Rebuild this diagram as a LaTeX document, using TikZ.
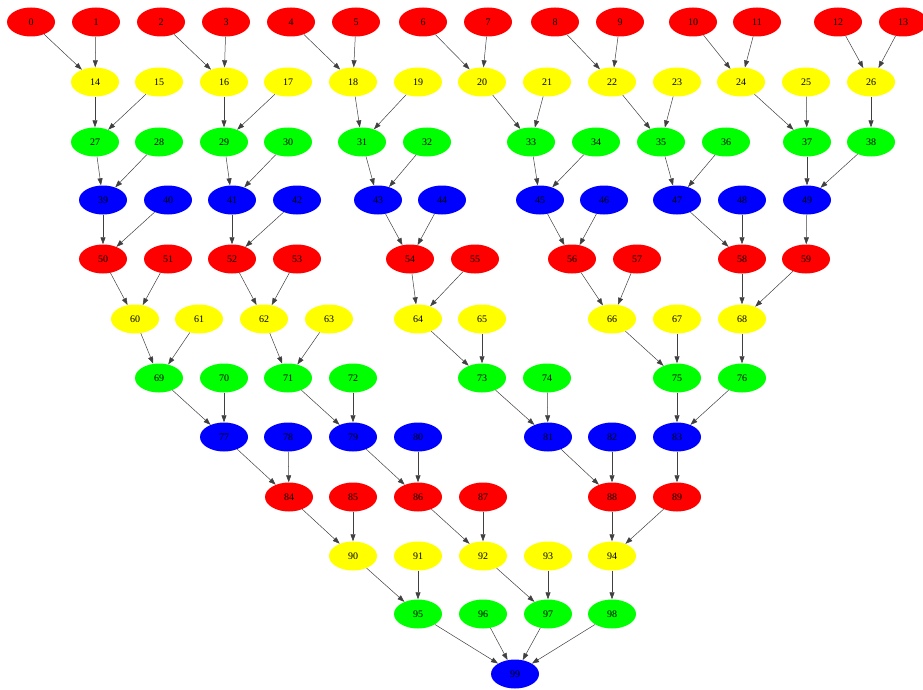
\documentclass[tikz,border=0pt]{standalone}
\usepackage{fontspec}
\setmainfont{Liberation Serif}
\definecolor{gvRed}{HTML}{FF0000}
\definecolor{gvYellow}{HTML}{FFFF00}
\definecolor{gvGreen}{HTML}{00FF00}
\definecolor{gvBlue}{HTML}{0000FF}
\usetikzlibrary{arrows.meta,shapes.geometric}

\tikzset{
  vtx/.style={ellipse, minimum width=48pt, minimum height=29pt, inner sep=0pt,
    font=\fontsize{10}{11}\selectfont},
  redv/.style={vtx, fill=gvRed},
  yelv/.style={vtx, fill=gvYellow},
  grnv/.style={vtx, fill=gvGreen},
  bluv/.style={vtx, fill=gvBlue},
  edge/.style={-{Triangle[length=7pt,width=5pt]}, draw=black!75, line width=0.5pt}
}

\begin{document}
\begin{tikzpicture}[x=1pt, y=-1pt]
        \useasboundingbox (0,0) rectangle (923,690);
        % Row 0
        \foreach \n/\x in {0/31,1/96,2/161,3/226,4/291,5/356,6/423,7/488,8/555,9/620,10/693,11/757,12/838,13/903}
          \node[redv] (n\n) at (\x,22) {\n};
        % Row 1
        \foreach \n/\x in {14/95,15/159,16/224,17/288,18/353,19/418,20/482,21/547,22/612,23/677,24/741,25/806,26/871}
          \node[yelv] (n\n) at (\x,82) {\n};
        % Row 2
        \foreach \n/\x in {27/95,28/159,29/224,30/288,31/362,32/427,33/531,34/596,35/661,36/726,37/807,38/871}
          \node[grnv] (n\n) at (\x,142) {\n};
        % Row 3
        \foreach \n/\x in {39/103,40/168,41/232,42/297,43/378,44/442,45/540,46/604,47/677,48/742,49/807}
          \node[bluv] (n\n) at (\x,200) {\n};
        % Row 4
        \foreach \n/\x in {50/103,51/168,52/232,53/297,54/410,55/475,56/572,57/637,58/742,59/806}
          \node[redv] (n\n) at (\x,259) {\n};
        % Row 5
        \foreach \n/\x in {60/135,61/199,62/264,63/329,64/418,65/482,66/612,67/677,68/742}
          \node[yelv] (n\n) at (\x,319) {\n};
        % Row 6
        \foreach \n/\x in {69/159,70/224,71/288,72/353,73/482,74/547,75/677,76/742}
          \node[grnv] (n\n) at (\x,378) {\n};
        % Row 7
        \foreach \n/\x in {77/224,78/288,79/353,80/418,81/548,82/612,83/677}
          \node[bluv] (n\n) at (\x,437) {\n};
        % Row 8
        \foreach \n/\x in {84/289,85/353,86/418,87/483,88/612,89/677}
          \node[redv] (n\n) at (\x,497) {\n};
        % Row 9
        \foreach \n/\x in {90/353,91/418,92/483,93/548,94/612}
          \node[yelv] (n\n) at (\x,556) {\n};
        % Row 10
        \foreach \n/\x in {95/418,96/483,97/548,98/612}
          \node[grnv] (n\n) at (\x,614) {\n};
        % Root
        \node[bluv] (n99) at (515,674) {99};
        % Edges
        \foreach \a/\b in {0/14,1/14,2/16,3/16,4/18,5/18,6/20,7/20,8/22,9/22,10/24,11/24,12/26,13/26,
            14/27,15/27,16/29,17/29,18/31,19/31,20/33,21/33,22/35,23/35,24/37,25/37,26/38,
            27/39,28/39,29/41,30/41,31/43,32/43,33/45,34/45,35/47,36/47,37/49,38/49,
            39/50,40/50,41/52,42/52,43/54,44/54,45/56,46/56,47/58,48/58,49/59,
            50/60,51/60,52/62,53/62,54/64,55/64,56/66,57/66,58/68,59/68,
            60/69,61/69,62/71,63/71,64/73,65/73,66/75,67/75,68/76,
            69/77,70/77,71/79,72/79,73/81,74/81,75/83,76/83,
            77/84,78/84,79/86,80/86,81/88,82/88,83/89,
            84/90,85/90,86/92,87/92,88/94,89/94,
            90/95,91/95,92/97,93/97,94/98,
            95/99,96/99,97/99,98/99}
          \draw[edge] (n\a) -- (n\b);
      \end{tikzpicture}
\end{document}
